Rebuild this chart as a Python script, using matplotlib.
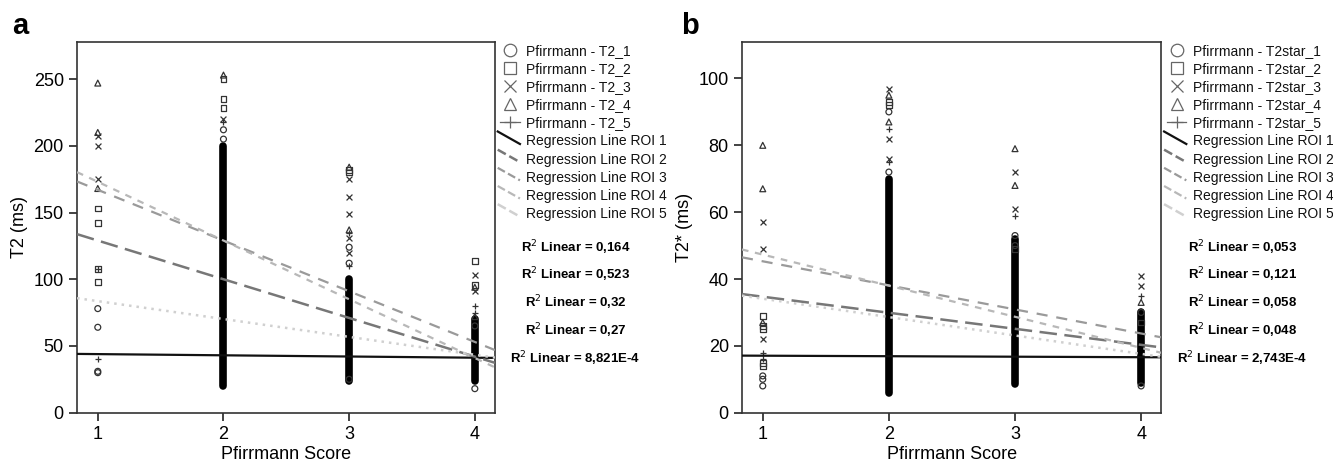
import matplotlib
matplotlib.use("Agg")
import matplotlib.pyplot as plt
import numpy as np
from matplotlib.lines import Line2D
from matplotlib.legend_handler import HandlerBase

plt.rcParams['font.family'] = ['Liberation Sans', 'DejaVu Sans']

# ---- data ----
scores = [1, 2, 3, 4]
marker_types = ['o', 's', 'x', '^', '+']

# panel a: T2 (ms); outliers per marker type as (score, value)
a_circle = [(1, 78), (1, 64), (1, 31), (1, 30), (2, 212), (2, 205), (3, 112), (3, 124), (3, 25), (4, 65), (4, 18)]
a_square = [(1, 153), (1, 142), (1, 108), (1, 98), (2, 250), (2, 235), (2, 228), (3, 182), (3, 180), (4, 114), (4, 96)]
a_cross = [(1, 207), (1, 200), (1, 175), (2, 220), (3, 175), (3, 162), (3, 149), (3, 131), (3, 120), (4, 103), (4, 91)]
a_tri = [(1, 247), (1, 210), (1, 168), (2, 253), (3, 184), (3, 137), (4, 94), (4, 72)]
a_plus = [(1, 108), (1, 40), (2, 218), (3, 135), (3, 110), (4, 80), (4, 75)]
a_dense_low = [20, 24, 24]
a_dense_high = [200, 100, 70]
a_dense_x = [2, 3, 4]
# regression lines: intercept, slope
a_icpt = [44.8, 158.0, 205.0, 217.0, 97.0]
a_slope = [-0.9, -29.0, -38.0, -44.0, -13.4]
a_r2 = ['0,164', '0,523', '0,32', '0,27', '8,821E-4']

# panel b: T2* (ms)
b_circle = [(1, 11), (1, 10), (1, 8), (2, 90), (2, 72), (3, 53), (3, 50), (4, 30), (4, 8)]
b_square = [(1, 29), (1, 26), (1, 25), (1, 15), (1, 14), (2, 93), (2, 92), (3, 49), (4, 27)]
b_cross = [(1, 57), (1, 49), (1, 22), (2, 97), (2, 82), (2, 76), (3, 72), (3, 61), (4, 41), (4, 38)]
b_tri = [(1, 80), (1, 67), (1, 27), (2, 95), (2, 87), (3, 79), (3, 68), (4, 33)]
b_plus = [(1, 18), (1, 16), (2, 85), (2, 75), (3, 59), (4, 35)]
b_dense_low = [6, 8.5, 9]
b_dense_high = [70, 52, 30]
b_dense_x = [2, 3, 4]
b_icpt = [17.2, 39.5, 52.5, 56.6, 39.6]
b_slope = [-0.15, -4.8, -7.2, -9.3, -5.5]
b_r2 = ['0,053', '0,121', '0,058', '0,048', '2,743E-4']

roi_colors = ['#111111', '#777777', '#9a9a9a', '#b8b8b8', '#d0d0d0']
roi_styles = ['-', (0, (7, 3)), (0, (5, 4)), (0, (3, 3)), (0, (1, 2))]
roi_widths = [1.6, 1.8, 1.6, 1.6, 1.8]


class DiagHandler(HandlerBase):
    def create_artists(self, legend, orig, xd, yd, width, height, fontsize, trans):
        ln = Line2D([-xd - 2, width - xd], [height - yd + 3, -yd + 1],
                    color=orig.get_color(), linestyle=orig.get_linestyle(),
                    linewidth=orig.get_linewidth(), transform=trans)
        return [ln]


def panel(ax, groups, dlow, dhigh, dx, icpt, slope, r2, ylim, yticks, ylabel, tag):
    vl = ax.vlines(dx, dlow, dhigh, color='black', linewidth=5.5, zorder=2)
    vl.set_capstyle('round')
    for pts, m in zip(groups, marker_types):
        xs = [p[0] for p in pts]
        ys = [p[1] for p in pts]
        ax.scatter(xs, ys, marker=m, s=18, facecolors='none' if m not in ('x', '+') else '#333333',
                   edgecolors='#333333', linewidths=0.9, zorder=3)
    xl = np.array([0.835, 4.16])
    for i in range(5):
        ax.plot(xl, icpt[i] + slope[i] * xl, color=roi_colors[i], linestyle=roi_styles[i],
                linewidth=roi_widths[i], zorder=4)
    ax.set_xlim(0.835, 4.16)
    ax.set_ylim(*ylim)
    ax.set_xticks(scores)
    ax.set_yticks(yticks)
    ax.tick_params(direction='out', length=6, width=1.2, labelsize=13, color='#222222')
    for s in ax.spines.values():
        s.set_color('#333333')
        s.set_linewidth(1.2)
    ax.set_xlabel('Pfirrmann Score', fontsize=13, labelpad=2)
    ax.set_ylabel(ylabel, fontsize=13, labelpad=4)

    handles = []
    labels = []
    for i, m in enumerate(marker_types):
        handles.append(Line2D([], [], marker=m, linestyle='-' if m == '+' else 'none',
                              color='#666666', markerfacecolor='none', markersize=9, markeredgewidth=0.9,
                              linewidth=0.9))
        labels.append('Pfirrmann - %s_%d' % (tag, i + 1))
    hmap = {}
    for i in range(5):
        h = Line2D([], [], color=roi_colors[i], linestyle=roi_styles[i], linewidth=roi_widths[i])
        handles.append(h)
        labels.append('Regression Line ROI %d' % (i + 1))
        hmap[h] = DiagHandler()
    leg = ax.legend(handles, labels, loc='upper left', bbox_to_anchor=(1.0, 1.01), frameon=False,
                    fontsize=10, labelspacing=0.3, handlelength=1.4, handletextpad=0.45,
                    borderaxespad=0.2, borderpad=0.2, handler_map=hmap)
    for t in leg.get_texts():
        t.set_color('#111111')
    ys = [0.445, 0.372, 0.297, 0.222, 0.145]
    for i in range(5):
        ax.text(1.193, ys[i], 'R$^2$ Linear = %s' % r2[i], transform=ax.transAxes,
                ha='center', va='center', fontsize=9.5, fontweight='bold')


fig = plt.figure(figsize=(13.33, 4.65), dpi=100)
ax1 = fig.add_axes([0.0578, 0.1125, 0.3135, 0.7978])
ax2 = fig.add_axes([0.5566, 0.1125, 0.3146, 0.7978])

panel(ax1, [a_circle, a_square, a_cross, a_tri, a_plus], a_dense_low, a_dense_high, a_dense_x,
      a_icpt, a_slope, a_r2, (0, 278), [0, 50, 100, 150, 200, 250], 'T2 (ms)', 'T2')
panel(ax2, [b_circle, b_square, b_cross, b_tri, b_plus], b_dense_low, b_dense_high, b_dense_x,
      b_icpt, b_slope, b_r2, (0, 111), [0, 20, 40, 60, 80, 100], 'T2* (ms)', 'T2star')

fig.text(0.009, 0.927, 'a', fontsize=21, fontweight='bold', va='baseline')
fig.text(0.511, 0.927, 'b', fontsize=21, fontweight='bold', va='baseline')

fig.savefig('out.png', dpi=100)
